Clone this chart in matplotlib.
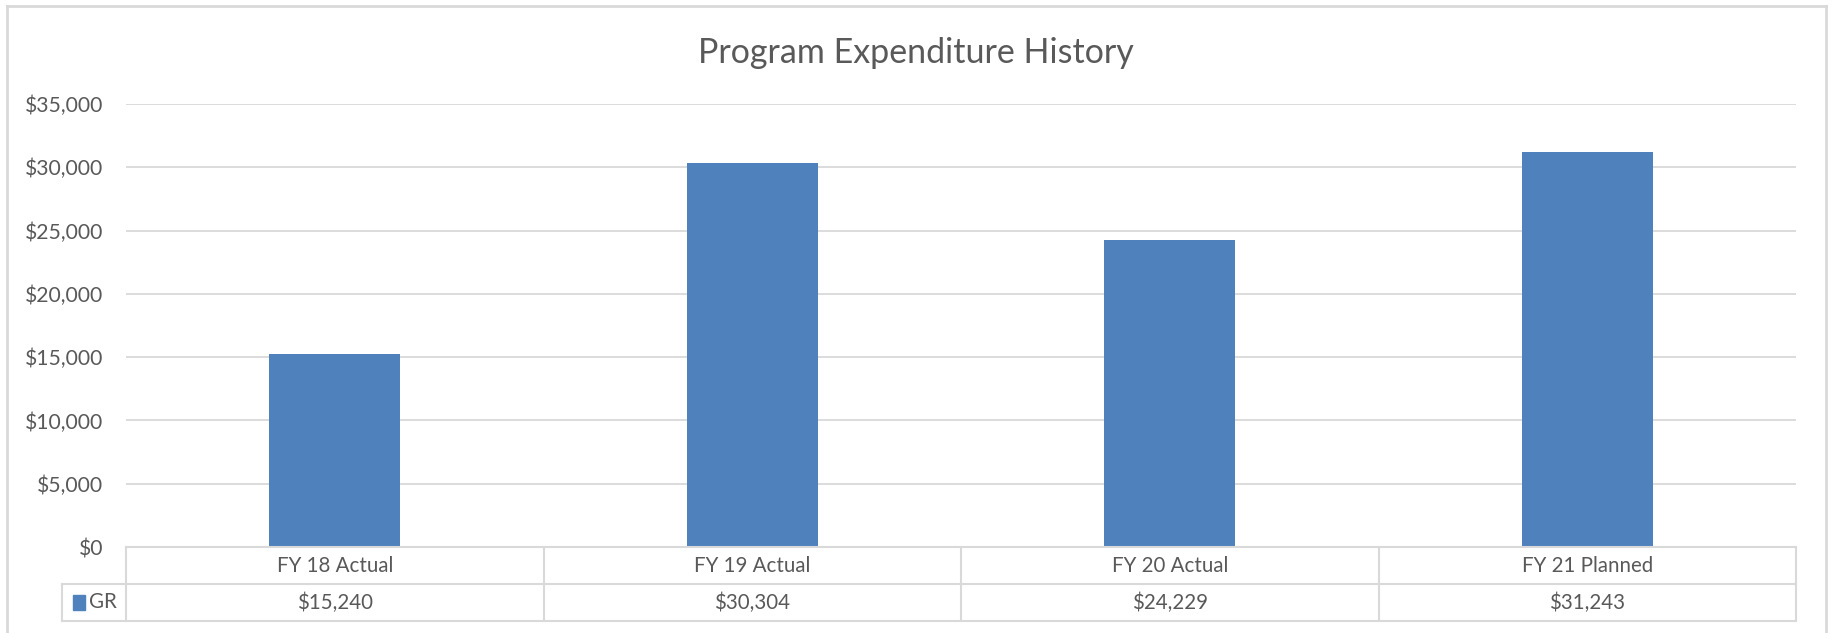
import matplotlib.pyplot as plt
from matplotlib.ticker import FuncFormatter
from matplotlib.patches import Rectangle
from matplotlib.lines import Line2D

categories = ["FY 18 Actual", "FY 19 Actual", "FY 20 Actual", "FY 21 Planned"]
gr = [15240, 30304, 24229, 31243]
series_name = "GR"

W, H = 1832, 633
txt = "#595959"
grid = "#d9d9d9"
bar_c = "#4f81bd"
plt.rcParams['font.family'] = ['Lato', 'DejaVu Sans']

fig = plt.figure(figsize=(W / 100, H / 100), dpi=100)

# plot area in pixels
left, right, top, bottom = 126, 1796, 104, 547
ax = fig.add_axes([left / W, 1 - bottom / H, (right - left) / W, (bottom - top) / H])
x = range(len(categories))
ax.bar(x, gr, width=0.314, color=bar_c, zorder=3)
ax.set_xlim(-0.5, len(categories) - 0.5)
ax.set_ylim(0, 35000)
ax.set_yticks(range(0, 35001, 5000))
ax.yaxis.set_major_formatter(FuncFormatter(lambda v, p: f"${v:,.0f}"))
ax.tick_params(axis='y', length=0, pad=16.5, labelsize=15.2, labelcolor=txt)
ax.set_xticks([])
ax.grid(axis='y', color=grid, lw=1.3, zorder=0)
for s in ax.spines.values():
    s.set_visible(False)

# data table below the plot
row_h = 37
tax = fig.add_axes([left / W, 1 - (bottom + 2 * row_h) / H, (right - left) / W, 2 * row_h / H])
tax.set_xlim(-0.5, len(categories) - 0.5)
tax.set_ylim(0, 2)
tax.axis('off')
lw = 1.5
leg_w = 64 / ((right - left) / len(categories))
x0 = -0.5 - leg_w
xe = len(categories) - 0.5
for yy in (0, 1):
    tax.plot([x0, xe], [yy, yy], color=grid, lw=lw, clip_on=False)
tax.plot([-0.5, xe], [2, 2], color=grid, lw=lw, clip_on=False)
tax.plot([x0, x0], [0, 1], color=grid, lw=lw, clip_on=False)
for i in range(len(categories) + 1):
    tax.plot([i - 0.5, i - 0.5], [0, 2], color=grid, lw=lw, clip_on=False)
for i, (c, v) in enumerate(zip(categories, gr)):
    tax.text(i, 1.5, c, ha='center', va='center', fontsize=14.8, color=txt)
    tax.text(i, 0.5, f"${v:,}", ha='center', va='center', fontsize=14.8, color=txt)
tax.add_patch(Rectangle((x0 + 0.026, 0.3), 0.03, 0.4, color=bar_c, clip_on=False))
tax.text(x0 + 0.064, 0.5, series_name, ha='left', va='center', fontsize=14.8, color=txt)

fig.text(0.5, 1 - 53 / H, "Program Expenditure History", ha='center', va='center',
         fontsize=24.5, color=txt)

# chart border
fig.add_artist(Line2D([7 / W, 7 / W], [0, 1 - 6 / H], color=grid, lw=2))
fig.add_artist(Line2D([7 / W, 1826 / W], [1 - 6 / H, 1 - 6 / H], color=grid, lw=2))
fig.add_artist(Line2D([1826 / W, 1826 / W], [0, 1 - 6 / H], color=grid, lw=2))

fig.savefig("out.png", dpi=100, facecolor='white')
